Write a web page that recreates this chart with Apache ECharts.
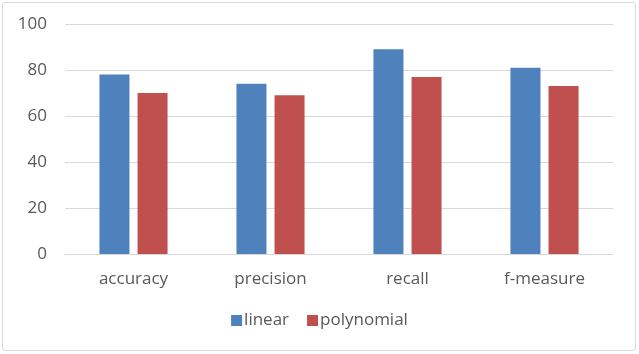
<!DOCTYPE html>
<html>
	<head>
		<meta charset="utf-8">
		<title>chart</title>
		<style>
			html, body {
				margin: 0;
				padding: 0;
				background: #fff;
			}
			#box {
				position: absolute;
				left: 2px;
				top: 2px;
				width: 632px;
				height: 347px;
				border: 1px solid #d9d9d9;
				border-radius: 3px;
			}
			#chart {
				width: 639px;
				height: 354px;
				position: absolute;
				left: 0;
				top: 0;
			}
		</style>
		<script src="https://cdn.jsdelivr.net/npm/echarts@6/dist/echarts.min.js"></script>
	</head>
	<body>
		<div id="box"></div>
		<div id="chart"></div>
		<script>
			var categories = ['accuracy', 'precision', 'recall', 'f-measure'];
			var linearData = [78, 74, 89, 81];
			var polyData = [70, 69, 77, 73];
			var seriesNames = ['linear', 'polynomial'];

			var font = '"Open Sans", Lato, sans-serif';
			var chart = echarts.init(document.getElementById('chart'));
			chart.setOption({
				animation: false,
				textStyle: { fontFamily: font },
				grid: { left: 65, right: 26, top: 24, bottom: 100 },
				legend: {
					data: seriesNames,
					bottom: 20,
					left: 'center',
					itemWidth: 11,
					itemHeight: 11,
					itemGap: 18,
					icon: 'rect',
					textStyle: { fontFamily: font, fontSize: 17, color: '#595959', padding: [0, 0, 0, -3] }
				},
				xAxis: {
					type: 'category',
					data: categories,
					axisLine: { lineStyle: { color: '#d9d9d9' } },
					axisTick: { show: false },
					axisLabel: { fontFamily: font, fontSize: 17, color: '#595959', margin: 17 }
				},
				yAxis: {
					type: 'value',
					min: 0,
					max: 100,
					interval: 20,
					axisLine: { show: false },
					axisTick: { show: false },
					splitLine: { lineStyle: { color: '#d9d9d9' } },
					axisLabel: { fontFamily: font, fontSize: 17, color: '#595959', margin: 18 }
				},
				series: [{
					name: seriesNames[0],
					type: 'bar',
					data: linearData,
					barWidth: 30,
					barGap: '27%',
					itemStyle: { color: '#4F81BD' }
				}, {
					name: seriesNames[1],
					type: 'bar',
					data: polyData,
					barWidth: 30,
					itemStyle: { color: '#C0504D' }
				}]
			});
		</script>
	</body>
</html>
